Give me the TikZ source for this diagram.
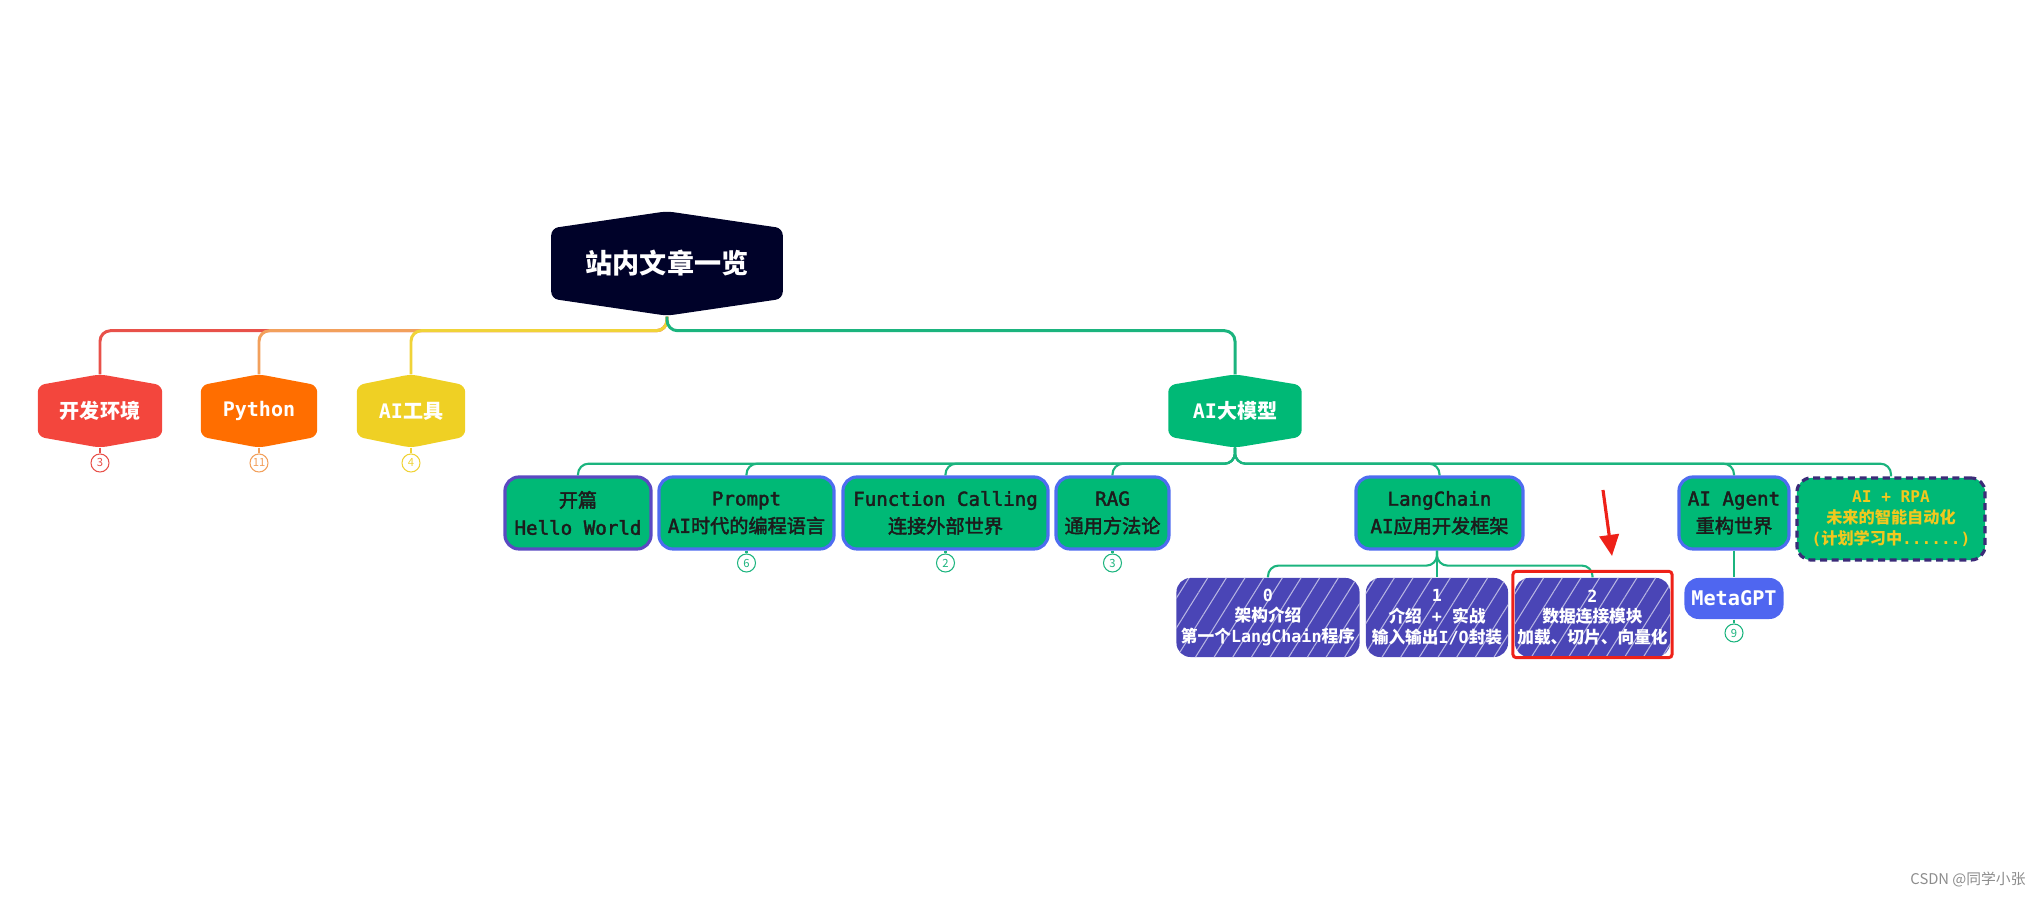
\documentclass[tikz,border=0pt]{standalone}
\usepackage{fontspec}
\setmainfont{DejaVu Sans Mono}
\newfontfamily\cjk{Noto Sans CJK SC}
\newfontfamily\midzh{Noto Sans CJK SC}[FakeBold=2.2]
\newfontfamily\midmono{DejaVu Sans Mono}[FakeBold=2.2]
\usetikzlibrary{positioning,arrows.meta,calc,fit,backgrounds,patterns.meta}
\definecolor{rootnavy}{HTML}{000229}
\definecolor{devred}{HTML}{F3463D}
\definecolor{devline}{HTML}{E8514A}
\definecolor{pyorange}{HTML}{FF6E00}
\definecolor{pyline}{HTML}{F2A05C}
\definecolor{toolyellow}{HTML}{EFD024}
\definecolor{toolline}{HTML}{F0D338}
\definecolor{mapgreen}{HTML}{00B976}
\definecolor{linegreen}{HTML}{1BB47E}
\definecolor{rimblue}{HTML}{4E6CF0}
\definecolor{rimdeep}{HTML}{5B49C2}
\definecolor{inkdark}{HTML}{1C1C1C}
\definecolor{subpurple}{HTML}{4A45B6}
\definecolor{metablue}{HTML}{4F66F0}
\definecolor{rpagold}{HTML}{F2C81E}
\definecolor{rpaedge}{HTML}{3B2B78}
\definecolor{hilitered}{HTML}{EE2118}
\let\zhfont\cjk
\newcommand{\zh}[1]{{\zhfont #1}}
\newcommand{\hexfill}[3]{%
  \fill[#2,rounded corners=2pt] ($(#1.north)+(0,-#3)$) -- (#1.north east) -- (#1.south east)
    -- ($(#1.south)+(0,#3)$) -- (#1.south west) -- (#1.north west) -- cycle;}

\begin{document}
\begin{tikzpicture}[x=0.01cm,y=-0.01cm,
  rootbox/.style={inner sep=0,minimum width=2.3cm,minimum height=0.69cm,text=white,
    font=\fontsize{7.7}{8}\selectfont\bfseries},
  topicbox/.style={inner sep=0,minimum height=0.5cm,text=white,
    font=\fontsize{5.7}{6}\selectfont\bfseries},
  subbox/.style={rectangle,rounded corners=4pt,fill=mapgreen,draw=rimblue,line width=0.9pt,
    inner sep=0,minimum height=0.72cm,align=center,text=inkdark,
    font=\fontsize{5.45}{7.8}\selectfont\midmono\let\zhfont\midzh},
  leafbox/.style={rectangle,rounded corners=4pt,fill=subpurple,inner sep=0,
    minimum height=0.79cm,align=center,text=white,
    font=\fontsize{4.75}{5.9}\selectfont\bfseries,
    postaction={pattern={Lines[angle=58,distance=4.5pt,line width=0.3pt]},pattern color=white!60!subpurple}},
  badge/.style={circle,draw=#1,fill=white,text=#1,line width=0.3pt,inner sep=0,
    minimum size=0.18cm,font=\fontsize{3.2}{3.2}\selectfont\cjk},
  branch/.style={line width=0.85pt,rounded corners=3pt},
  twig/.style={line width=0.6pt,draw=linegreen,rounded corners=3pt}]

  \useasboundingbox (0,0) rectangle (2041,898);

  \node[rootbox] (root) at (667,263.5) {\zh{站内文章一览}};

  \node[topicbox,minimum width=1.23cm] (dev) at (100,411) {\zh{开发环境}};
  \node[topicbox,minimum width=1.15cm] (py) at (259,411) {Python};
  \node[topicbox,minimum width=1.07cm] (tool) at (411,411) {AI\zh{工具}};
  \node[topicbox,minimum width=1.32cm] (llm) at (1235,411) {AI\zh{大模型}};

  \node[badge=devline] (devn) at (100,463) {3};
  \node[badge=pyline] (pyn) at (259,463) {11};
  \node[badge=toolline] (tooln) at (411,463) {4};

  \begin{scope}[on background layer]
    \hexfill{root}{rootnavy}{17}
    \hexfill{dev}{devred}{11}
    \hexfill{py}{pyorange}{11}
    \hexfill{tool}{toolyellow}{11}
    \hexfill{llm}{mapgreen}{11}
  \end{scope}

  \draw[branch,devline] ($(root.south)+(0,18)$) -- ++(0,14) -| ($(dev.north)+(0,-11)$);
  \draw[branch,pyline] ($(root.south)+(0,18)$) -- ++(0,14) -| ($(py.north)+(0,-11)$);
  \draw[branch,toolline] ($(root.south)+(0,18)$) -- ++(0,14) -| ($(tool.north)+(0,-11)$);
  \draw[branch,linegreen] ($(root.south)+(0,18)$) -- ++(0,14) -| ($(llm.north)+(0,-11)$);
  \draw[line width=0.6pt,devline] ($(dev.south)+(0,11)$) -- (devn);
  \draw[line width=0.6pt,pyline] ($(py.south)+(0,11)$) -- (pyn);
  \draw[line width=0.6pt,toolline] ($(tool.south)+(0,11)$) -- (tooln);

  \node[subbox,draw=rimdeep,minimum width=1.46cm] (hello) at (578,513) {\zh{开篇}\\Hello World};
  \node[subbox,minimum width=1.75cm] (prompt) at (746.5,513) {Prompt\\AI\zh{时代的编程语言}};
  \node[subbox,minimum width=2.05cm] (fcall) at (945.5,513) {Function Calling\\\zh{连接外部世界}};
  \node[subbox,minimum width=1.13cm] (rag) at (1112.5,513) {RAG\\\zh{通用方法论}};
  \node[subbox,minimum width=1.67cm] (lchain) at (1439.5,513) {LangChain\\AI\zh{应用开发框架}};
  \node[subbox,minimum width=1.1cm] (agent) at (1734,513) {AI Agent\\\zh{重构世界}};
  \node[subbox,draw=rpaedge,dashed,dash pattern=on 2pt off 1.3pt,minimum width=1.88cm,
    minimum height=0.82cm,text=rpagold,font=\fontsize{4.6}{6}\selectfont\bfseries]
    (rpa) at (1891,519) {AI + RPA\\\zh{未来的智能自动化}\\(\zh{计划学习中}......)};

  \foreach \n in {hello,prompt,fcall,rag,lchain,agent,rpa}
    \draw[twig] ($(llm.south)+(0,11)$) -- ++(0,16) -| (\n.north);

  \node[badge=linegreen] (promptn) at (746.5,563) {6};
  \node[badge=linegreen] (fcalln) at (945.5,563) {2};
  \node[badge=linegreen] (ragn) at (1112.5,563) {3};
  \draw[twig] (prompt) -- (promptn);
  \draw[twig] (fcall) -- (fcalln);
  \draw[twig] (rag) -- (ragn);

  \node[leafbox,minimum width=1.83cm] (lc0) at (1268,617.5) {0\\\zh{架构介绍}\\\zh{第一个}LangChain\zh{程序}};
  \node[leafbox,minimum width=1.42cm] (lc1) at (1437,617.5) {1\\\zh{介绍} + \zh{实战}\\\zh{输入输出}I/O\zh{封装}};
  \node[leafbox,minimum width=1.55cm] (lc2) at (1592.5,617.5) {2\\\zh{数据连接模块}\\\zh{加载、切片、向量化}};
  \foreach \n in {lc0,lc1,lc2}
    \draw[twig] (lchain.south -| lc1.north) -- ++(0,15) -| (\n.north);
  \node[draw=hilitered,line width=0.85pt,rounded corners=1pt,inner xsep=0.4pt,inner ysep=0,
    fit={($(lc2.north west)+(0,-6)$) (lc2.south east)}] (spot) {};

  \node[rectangle,rounded corners=4pt,fill=metablue,inner sep=0,minimum width=0.99cm,
    minimum height=0.41cm,text=white,font=\fontsize{5.75}{6}\selectfont\bfseries]
    (meta) at (1734,598.5) {MetaGPT};
  \node[badge=linegreen] (metan) at (1734,633) {9};
  \draw[twig] (agent) -- (meta);
  \draw[twig] (meta) -- (metan);

  \coordinate (cueS) at (1603,490);
  \coordinate (cueE) at (1612,556);
  \draw[-{Triangle[length=6pt,width=5.5pt]},line width=0.9pt,hilitered] (cueS) -- (cueE);

  \node[text=black!45,font=\fontsize{4.2}{5}\selectfont\cjk] (wm) at (1968,880) {CSDN @同学小张};
\end{tikzpicture}
\end{document}
